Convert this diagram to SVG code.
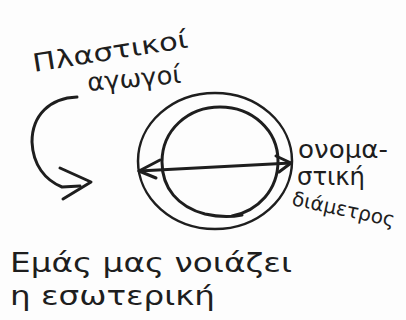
<svg xmlns="http://www.w3.org/2000/svg" width="406" height="320" viewBox="0 0 406 320">
<style>
.s{fill:none;stroke:#1e1e1e;stroke-width:3;stroke-linecap:round;stroke-linejoin:round}
.t{fill:#1e1e1e;font-family:"DejaVu Sans","Noto Sans",sans-serif;font-size:25px}
</style>
<rect width="406" height="320" fill="#fdfdfd"/>
<g id="pipe">
<ellipse cx="215" cy="161" rx="77" ry="68" class="s" style="stroke-width:2.5"/>
<path class="s" d="M242 215 C232 217 218 217 205 214 C178 207 162 188 162 162 C162 130 188 107 220 107 C252 107 278 130 278 161 C278 190 258 211 232 216"/>
</g>
<g id="connectors">
<path class="s" d="M139 171 L291 163"/>
<path class="s" d="M160 160 L139 171 L156 178"/>
<path class="s" d="M276 156 L291 163 L279 172"/>
<path class="s" d="M77 97 C50 98 32 115 32 142 C33 165 45 180 62 187 L80 186"/>
<path class="s" d="M60 168 L91 182 L63 199"/>
</g>
<g id="labels">
<text class="t" transform="translate(34 72) rotate(-9)" textLength="157" lengthAdjust="spacingAndGlyphs">Πλαστικοί</text>
<text class="t" transform="translate(88 91) rotate(-5)" textLength="94" lengthAdjust="spacingAndGlyphs">αγωγοί</text>
<text class="t" x="298" y="158" textLength="90" lengthAdjust="spacingAndGlyphs">ονομα-</text>
<text class="t" x="297" y="185" textLength="68" lengthAdjust="spacingAndGlyphs">στική</text>
<text class="t" transform="translate(291 205) rotate(12)" style="font-size:20px">διάμετρος</text>
<text class="t" x="10" y="272" style="font-size:27px" textLength="282" lengthAdjust="spacingAndGlyphs">Εμάς μας νοιάζει</text>
<text class="t" x="10" y="305" style="font-size:27px" textLength="205" lengthAdjust="spacingAndGlyphs">η εσωτερική</text>
</g>
</svg>
